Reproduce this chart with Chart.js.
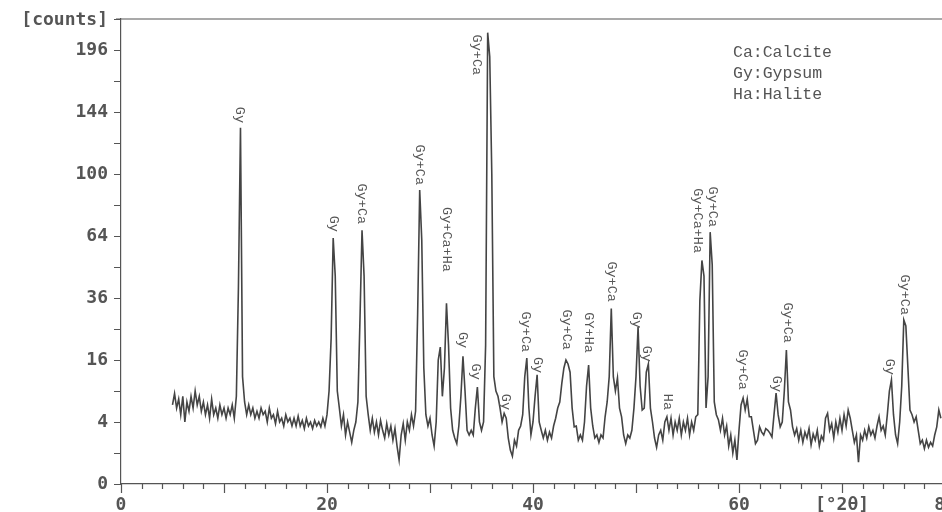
<!DOCTYPE html>
<html>
<head>
<meta charset="utf-8">
<script src="https://cdn.jsdelivr.net/npm/chart.js@4.4.0/dist/chart.umd.min.js"></script>
<style>
  html, body { margin: 0; background: #fff; overflow: hidden; }
  #wrap { width: 965px; height: 512px; }
</style>
</head>
<body>
<div id="wrap"><canvas id="xrd" width="965" height="512"></canvas></div>
<script>
// diffractogram (2theta in degrees, intensity in counts)
const twoTheta = [
  5.0, 5.2, 5.4, 5.6, 5.8, 6.0, 6.2, 6.4, 6.6, 6.8,
  7.0, 7.2, 7.4, 7.6, 7.8, 8.0, 8.2, 8.4, 8.6, 8.8,
  9.0, 9.2, 9.4, 9.6, 9.8, 10.0, 10.2, 10.4, 10.6, 10.8,
  11.0, 11.2, 11.4, 11.6, 11.8, 12.0, 12.2, 12.4, 12.6, 12.8,
  13.0, 13.2, 13.4, 13.6, 13.8, 14.0, 14.2, 14.4, 14.6, 14.8,
  15.0, 15.2, 15.4, 15.6, 15.8, 16.0, 16.2, 16.4, 16.6, 16.8,
  17.0, 17.2, 17.4, 17.6, 17.8, 18.0, 18.2, 18.4, 18.6, 18.8,
  19.0, 19.2, 19.4, 19.6, 19.8, 20.0, 20.2, 20.4, 20.6, 20.8,
  21.0, 21.2, 21.4, 21.6, 21.8, 22.0, 22.2, 22.4, 22.6, 22.8,
  23.0, 23.2, 23.4, 23.6, 23.8, 24.0, 24.2, 24.4, 24.6, 24.8,
  25.0, 25.2, 25.4, 25.6, 25.8, 26.0, 26.2, 26.4, 26.6, 26.8,
  27.0, 27.2, 27.4, 27.6, 27.8, 28.0, 28.2, 28.4, 28.6, 28.8,
  29.0, 29.2, 29.4, 29.6, 29.8, 30.0, 30.2, 30.4, 30.6, 30.8,
  31.0, 31.2, 31.4, 31.6, 31.8, 32.0, 32.2, 32.4, 32.6, 32.8,
  33.0, 33.2, 33.4, 33.6, 33.8, 34.0, 34.2, 34.4, 34.6, 34.8,
  35.0, 35.2, 35.4, 35.6, 35.8, 36.0, 36.2, 36.4, 36.6, 36.8,
  37.0, 37.2, 37.4, 37.6, 37.8, 38.0, 38.2, 38.4, 38.6, 38.8,
  39.0, 39.2, 39.4, 39.6, 39.8, 40.0, 40.2, 40.4, 40.6, 40.8,
  41.0, 41.2, 41.4, 41.6, 41.8, 42.0, 42.2, 42.4, 42.6, 42.8,
  43.0, 43.2, 43.4, 43.6, 43.8, 44.0, 44.2, 44.4, 44.6, 44.8,
  45.0, 45.2, 45.4, 45.6, 45.8, 46.0, 46.2, 46.4, 46.6, 46.8,
  47.0, 47.2, 47.4, 47.6, 47.8, 48.0, 48.2, 48.4, 48.6, 48.8,
  49.0, 49.2, 49.4, 49.6, 49.8, 50.0, 50.2, 50.4, 50.6, 50.8,
  51.0, 51.2, 51.4, 51.6, 51.8, 52.0, 52.2, 52.4, 52.6, 52.8,
  53.0, 53.2, 53.4, 53.6, 53.8, 54.0, 54.2, 54.4, 54.6, 54.8,
  55.0, 55.2, 55.4, 55.6, 55.8, 56.0, 56.2, 56.4, 56.6, 56.8,
  57.0, 57.2, 57.4, 57.6, 57.8, 58.0, 58.2, 58.4, 58.6, 58.8,
  59.0, 59.2, 59.4, 59.6, 59.8, 60.0, 60.2, 60.4, 60.6, 60.8,
  61.0, 61.2, 61.4, 61.6, 61.8, 62.0, 62.2, 62.4, 62.6, 62.8,
  63.0, 63.2, 63.4, 63.6, 63.8, 64.0, 64.2, 64.4, 64.6, 64.8,
  65.0, 65.2, 65.4, 65.6, 65.8, 66.0, 66.2, 66.4, 66.6, 66.8,
  67.0, 67.2, 67.4, 67.6, 67.8, 68.0, 68.2, 68.4, 68.6, 68.8,
  69.0, 69.2, 69.4, 69.6, 69.8, 70.0, 70.2, 70.4, 70.6, 70.8,
  71.0, 71.2, 71.4, 71.6, 71.8, 72.0, 72.2, 72.4, 72.6, 72.8,
  73.0, 73.2, 73.4, 73.6, 73.8, 74.0, 74.2, 74.4, 74.6, 74.8,
  75.0, 75.2, 75.4, 75.6, 75.8, 76.0, 76.2, 76.4, 76.6, 76.8,
  77.0, 77.2, 77.4, 77.6, 77.8, 78.0, 78.2, 78.4, 78.6, 78.8,
  79.0, 79.2, 79.4, 79.6
];
const counts = [
  6.5, 8.5, 6, 7.5, 5, 8, 4, 7, 5.5, 8,
  6, 9, 6.5, 8, 5.5, 7, 5, 6.5, 4.5, 7.5,
  5, 6, 4.5, 6.5, 5, 6, 4.5, 6, 5, 6.5,
  4.5, 8, 40, 132, 12, 7, 5, 6.5, 5, 6,
  4.5, 5.5, 4.5, 6, 5, 5.5, 4, 6, 4.5, 5,
  3.8, 5.5, 4, 4.5, 3.5, 5, 4, 4.5, 3.5, 4.5,
  3.5, 4.8, 3.5, 4.2, 3.2, 4.5, 3.5, 4, 3.2, 4.2,
  3.5, 4, 3.4, 4.5, 3.5, 5, 9, 22, 63, 45,
  9, 6, 3.5, 5, 2.5, 4, 2.8, 1.8, 3, 4,
  7, 28, 67, 45, 8, 5, 3, 4.5, 2.8, 4,
  2.5, 4.2, 3, 2.2, 3.8, 2.5, 3.5, 2, 3.2, 1.5,
  0.6, 2.5, 3.8, 2, 4, 3, 5, 3.5, 5.5, 30,
  90, 62, 14, 5, 3.5, 4.5, 2.5, 1.5, 4, 16,
  19.5, 8, 14, 34, 20, 6, 3, 2.2, 1.7, 3.5,
  8, 17, 9, 3, 2.5, 3, 2.5, 6, 9.8, 4,
  3, 4, 20, 212, 190, 100, 12, 9, 8, 6,
  4, 5.2, 4.5, 2.2, 1.2, 0.8, 2, 1.5, 3, 3.5,
  5, 12, 16.5, 6, 2.5, 4, 8, 12.4, 4, 3,
  2.2, 3, 2, 2.8, 2.2, 3.5, 4.5, 6, 7, 10.6,
  14, 16, 15, 13, 6, 3.4, 3.5, 2, 2.5, 2,
  4, 10, 14.7, 6, 3.5, 2.2, 2.5, 1.8, 2.5, 2.2,
  4.7, 7, 12, 32, 12, 9, 11.7, 6, 4.7, 2.5,
  1.7, 2.5, 2.2, 3, 6, 12, 25.6, 10, 5.7, 6,
  13, 15, 6, 4, 2.2, 1.4, 2.5, 3, 2, 4,
  4.7, 3, 4.5, 2.5, 4, 3, 4.5, 2.5, 4, 3,
  4.5, 2.5, 4, 3, 4.7, 5, 35, 52, 45, 6,
  12, 66, 50, 7, 5, 4.3, 3, 4.5, 2.5, 3.5,
  1.5, 2.5, 1, 2, 0.6, 3, 6.5, 7.7, 5.7, 7.5,
  4.7, 4.7, 3, 1.7, 2, 3.4, 2.8, 2.5, 3.2, 3,
  2.7, 2.3, 5, 8.6, 5, 3.4, 4, 9, 18.7, 7,
  5.7, 3.4, 2.5, 3.2, 2, 3, 1.8, 2.8, 2.2, 3.2,
  1.6, 2.6, 2, 3, 1.5, 2.4, 2, 4.5, 5.2, 3,
  3.8, 2.2, 4, 2.8, 4.5, 3, 5, 3.5, 5.7, 4.5,
  3, 1.8, 2.5, 0.5, 2.5, 2, 3, 2.2, 3.4, 2.5,
  3, 2.2, 3.5, 4.7, 3, 3.5, 2.5, 5, 9, 11.3,
  5, 2.5, 1.7, 4, 10, 28, 26, 14, 5.7, 5,
  4, 4.7, 3, 1.7, 2, 1.3, 2, 1.4, 1.8, 1.5,
  2.5, 3.4, 5.7, 4.5
];

// phase labels over the peaks: name, 2theta, counts level where the text ends
const peakNames = ['Gy', 'Gy', 'Gy+Ca', 'Gy+Ca', 'Gy+Ca+Ha', 'Gy', 'Gy', 'Gy+Ca', 'Gy',
  'Gy+Ca', 'Gy', 'Gy+Ca', 'GY+Ha', 'Gy+Ca', 'Gy', 'Gy', 'Ha', 'Gy+Ca+Ha', 'Gy+Ca',
  'Gy+Ca', 'Gy', 'Gy+Ca', 'Gy', 'Gy+Ca'];
const peakAngles = [11.55, 20.68, 23.4, 29.03, 31.65, 33.2, 34.47, 34.56, 37.38,
  39.32, 40.49, 43.3, 45.44, 47.67, 50.1, 51.07, 53.11, 56.02, 57.48,
  60.39, 63.69, 64.76, 74.66, 76.12];
const peakTops = [135.6, 66.1, 70.3, 93, 46.8, 19.2, 11.3, 174, 5.7,
  18.1, 12.8, 18.7, 17.9, 34.5, 25.3, 15.5, 5.7, 55.5, 68.7,
  9.2, 8.8, 20.7, 12.4, 29.7];

const phaseKey = ['Ca:Calcite', 'Gy:Gypsum', 'Ha:Halite'];

const countTicks = [0, 4, 16, 36, 64, 100, 144, 196];
const angleTicks = [0, 20, 40, 60, 70, 80];
const angleTickText = ['0', '20', '40', '60', '[°2θ]', '80'];
const yTitle = '[counts]';

const ink = '#444';
const axisFont = { family: '"DejaVu Sans Mono", monospace', size: 18, weight: 'bold' };

// intensity axis is square-root scaled, so the points go in as sqrt(counts)
const points = twoTheta.map((t, i) => ({ x: t, y: Math.sqrt(counts[i]) }));

const extras = {
  id: 'extras',
  afterDraw(chart) {
    const { ctx, chartArea: a, scales: { x, y } } = chart;
    ctx.save();
    ctx.strokeStyle = '#555';
    ctx.lineWidth = 1.2;
    ctx.beginPath();
    ctx.moveTo(a.left - 5, a.top);
    ctx.lineTo(chart.width, a.top);
    y.ticks.forEach(t => {
      const py = Math.round(y.getPixelForValue(t.value)) + 0.5;
      ctx.moveTo(a.left - 7, py);
      ctx.lineTo(a.left, py);
    });
    x.ticks.forEach(t => {
      const px = Math.round(x.getPixelForValue(t.value)) + 0.5;
      ctx.moveTo(px, a.bottom);
      ctx.lineTo(px, a.bottom + (t.value % 10 === 0 ? 9 : 5));
    });
    ctx.stroke();

    ctx.fillStyle = '#555';
    ctx.font = 'bold 18px "DejaVu Sans Mono"';
    ctx.textAlign = 'right';
    ctx.textBaseline = 'middle';
    ctx.fillText(yTitle, a.left - 13, a.top + 1);

    ctx.font = '13.5px "Liberation Mono"';
    peakNames.forEach((name, i) => {
      ctx.save();
      ctx.translate(x.getPixelForValue(peakAngles[i]), y.getPixelForValue(Math.sqrt(peakTops[i])));
      ctx.rotate(Math.PI / 2);
      ctx.textAlign = 'right';
      ctx.textBaseline = 'middle';
      ctx.fillText(name, 0, 0);
      ctx.restore();
    });

    ctx.font = '16.5px "Liberation Mono"';
    ctx.textAlign = 'left';
    phaseKey.forEach((k, i) => ctx.fillText(k, a.right - 212, a.top + 34 + i * 21));
    ctx.restore();
  }
};

new Chart(document.getElementById('xrd'), {
  type: 'line',
  data: {
    datasets: [{
      data: points,
      borderColor: ink,
      borderWidth: 1.6,
      pointRadius: 0,
      tension: 0
    }]
  },
  options: {
    responsive: false,
    animation: false,
    layout: { padding: { top: 19, right: 20, left: 0, bottom: 0 } },
    plugins: { legend: { display: false }, tooltip: { enabled: false } },
    scales: {
      x: {
        type: 'linear',
        min: 0,
        max: 80,
        afterFit: s => { s.height = 28; },
        grid: { drawOnChartArea: false, color: 'transparent', tickLength: 8 },
        border: { color: '#555', width: 1.2 },
        ticks: {
          stepSize: 2,
          autoSkip: false,
          maxRotation: 0,
          padding: 3,
          color: '#555',
          font: axisFont,
          callback: v => {
            const i = angleTicks.indexOf(v);
            return i >= 0 ? angleTickText[i] : '';
          }
        }
      },
      y: {
        min: 0,
        max: 15,
        afterFit: s => { s.width = 121; },
        grid: { drawOnChartArea: false, color: 'transparent', tickLength: 7 },
        border: { color: '#555', width: 1.2 },
        ticks: {
          stepSize: 1,
          autoSkip: false,
          padding: 6,
          color: '#555',
          font: axisFont,
          callback: v => countTicks.includes(v * v) ? String(v * v) : ''
        }
      }
    }
  },
  plugins: [extras]
});
</script>
</body>
</html>
